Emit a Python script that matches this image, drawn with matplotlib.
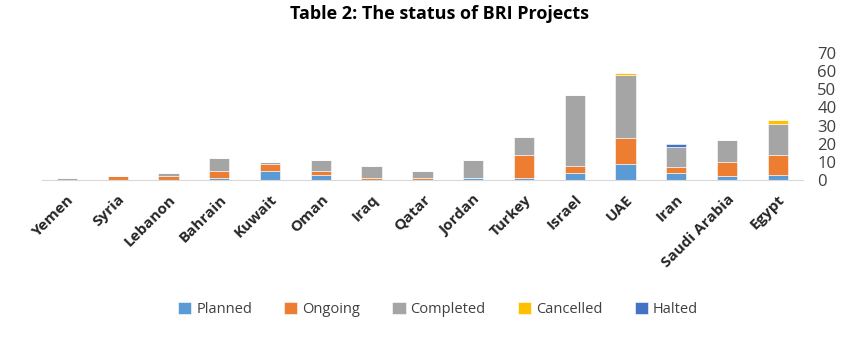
import matplotlib
matplotlib.use("Agg")
import matplotlib.pyplot as plt
import numpy as np

plt.rcParams['font.family'] = ['Open Sans', 'DejaVu Sans']

countries = ["Yemen", "Syria", "Lebanon", "Bahrain", "Kuwait", "Oman", "Iraq", "Qatar",
             "Jordan", "Turkey", "Israel", "UAE", "Iran", "Saudi Arabia", "Egypt"]
planned   = [0, 0, 0, 1, 5, 3, 0, 0, 1, 1, 4, 9, 4, 2, 3]
ongoing   = [0, 2, 2, 4, 4, 2, 1, 1, 0, 13, 4, 14, 3, 8, 11]
completed = [1, 0, 2, 7, 1, 6, 7, 4, 10, 10, 39, 35, 11, 12, 17]
cancelled = [0, 0, 0, 0, 0, 0, 0, 0, 0, 0, 0, 1, 0, 0, 2]
halted    = [0, 0, 0, 0, 0, 0, 0, 0, 0, 0, 0, 0, 2, 0, 0]

series = [("Planned", planned, "#5B9BD5"),
          ("Ongoing", ongoing, "#ED7D31"),
          ("Completed", completed, "#A5A5A5"),
          ("Cancelled", cancelled, "#FFC000"),
          ("Halted", halted, "#4472C4")]

fig = plt.figure(figsize=(8.52, 3.58), dpi=100)
ax = fig.add_axes([0.0488, 0.497, 0.894, 0.355])
x = np.arange(len(countries))
bottom = np.zeros(len(countries))
for name, vals, col in series:
    v = np.array(vals, dtype=float)
    ax.bar(x, v, 0.4, bottom=bottom, color=col, label=name, edgecolor='white', linewidth=0.4)
    bottom += v

ax.set_xlim(-0.5, len(countries) - 0.5)
ax.set_ylim(0, 70)
ax.set_yticks(range(0, 71, 10))
ax.yaxis.tick_right()
ax.tick_params(axis='y', length=0, labelsize=12, labelcolor='#404040', pad=10)
ax.set_xticks(x)
ax.set_xticklabels(countries, rotation=45, ha='right', rotation_mode='anchor',
                   fontsize=11, fontweight='bold', color='#262626')
ax.tick_params(axis='x', length=0, pad=9)
for s in ['top', 'left', 'right']:
    ax.spines[s].set_visible(False)
ax.spines['bottom'].set_color('#D9D9D9')

fig.suptitle("Table 2: The status of BRI Projects", fontsize=13, fontweight='bold',
             y=0.985, x=0.516)
fig.legend(loc='center', bbox_to_anchor=(0.514, 0.135), ncol=5, frameon=False,
           fontsize=10.5, handlelength=0.9, handleheight=0.9, columnspacing=2.2,
           handletextpad=0.35, labelcolor='#404040')
fig.savefig("out.png", dpi=100)
